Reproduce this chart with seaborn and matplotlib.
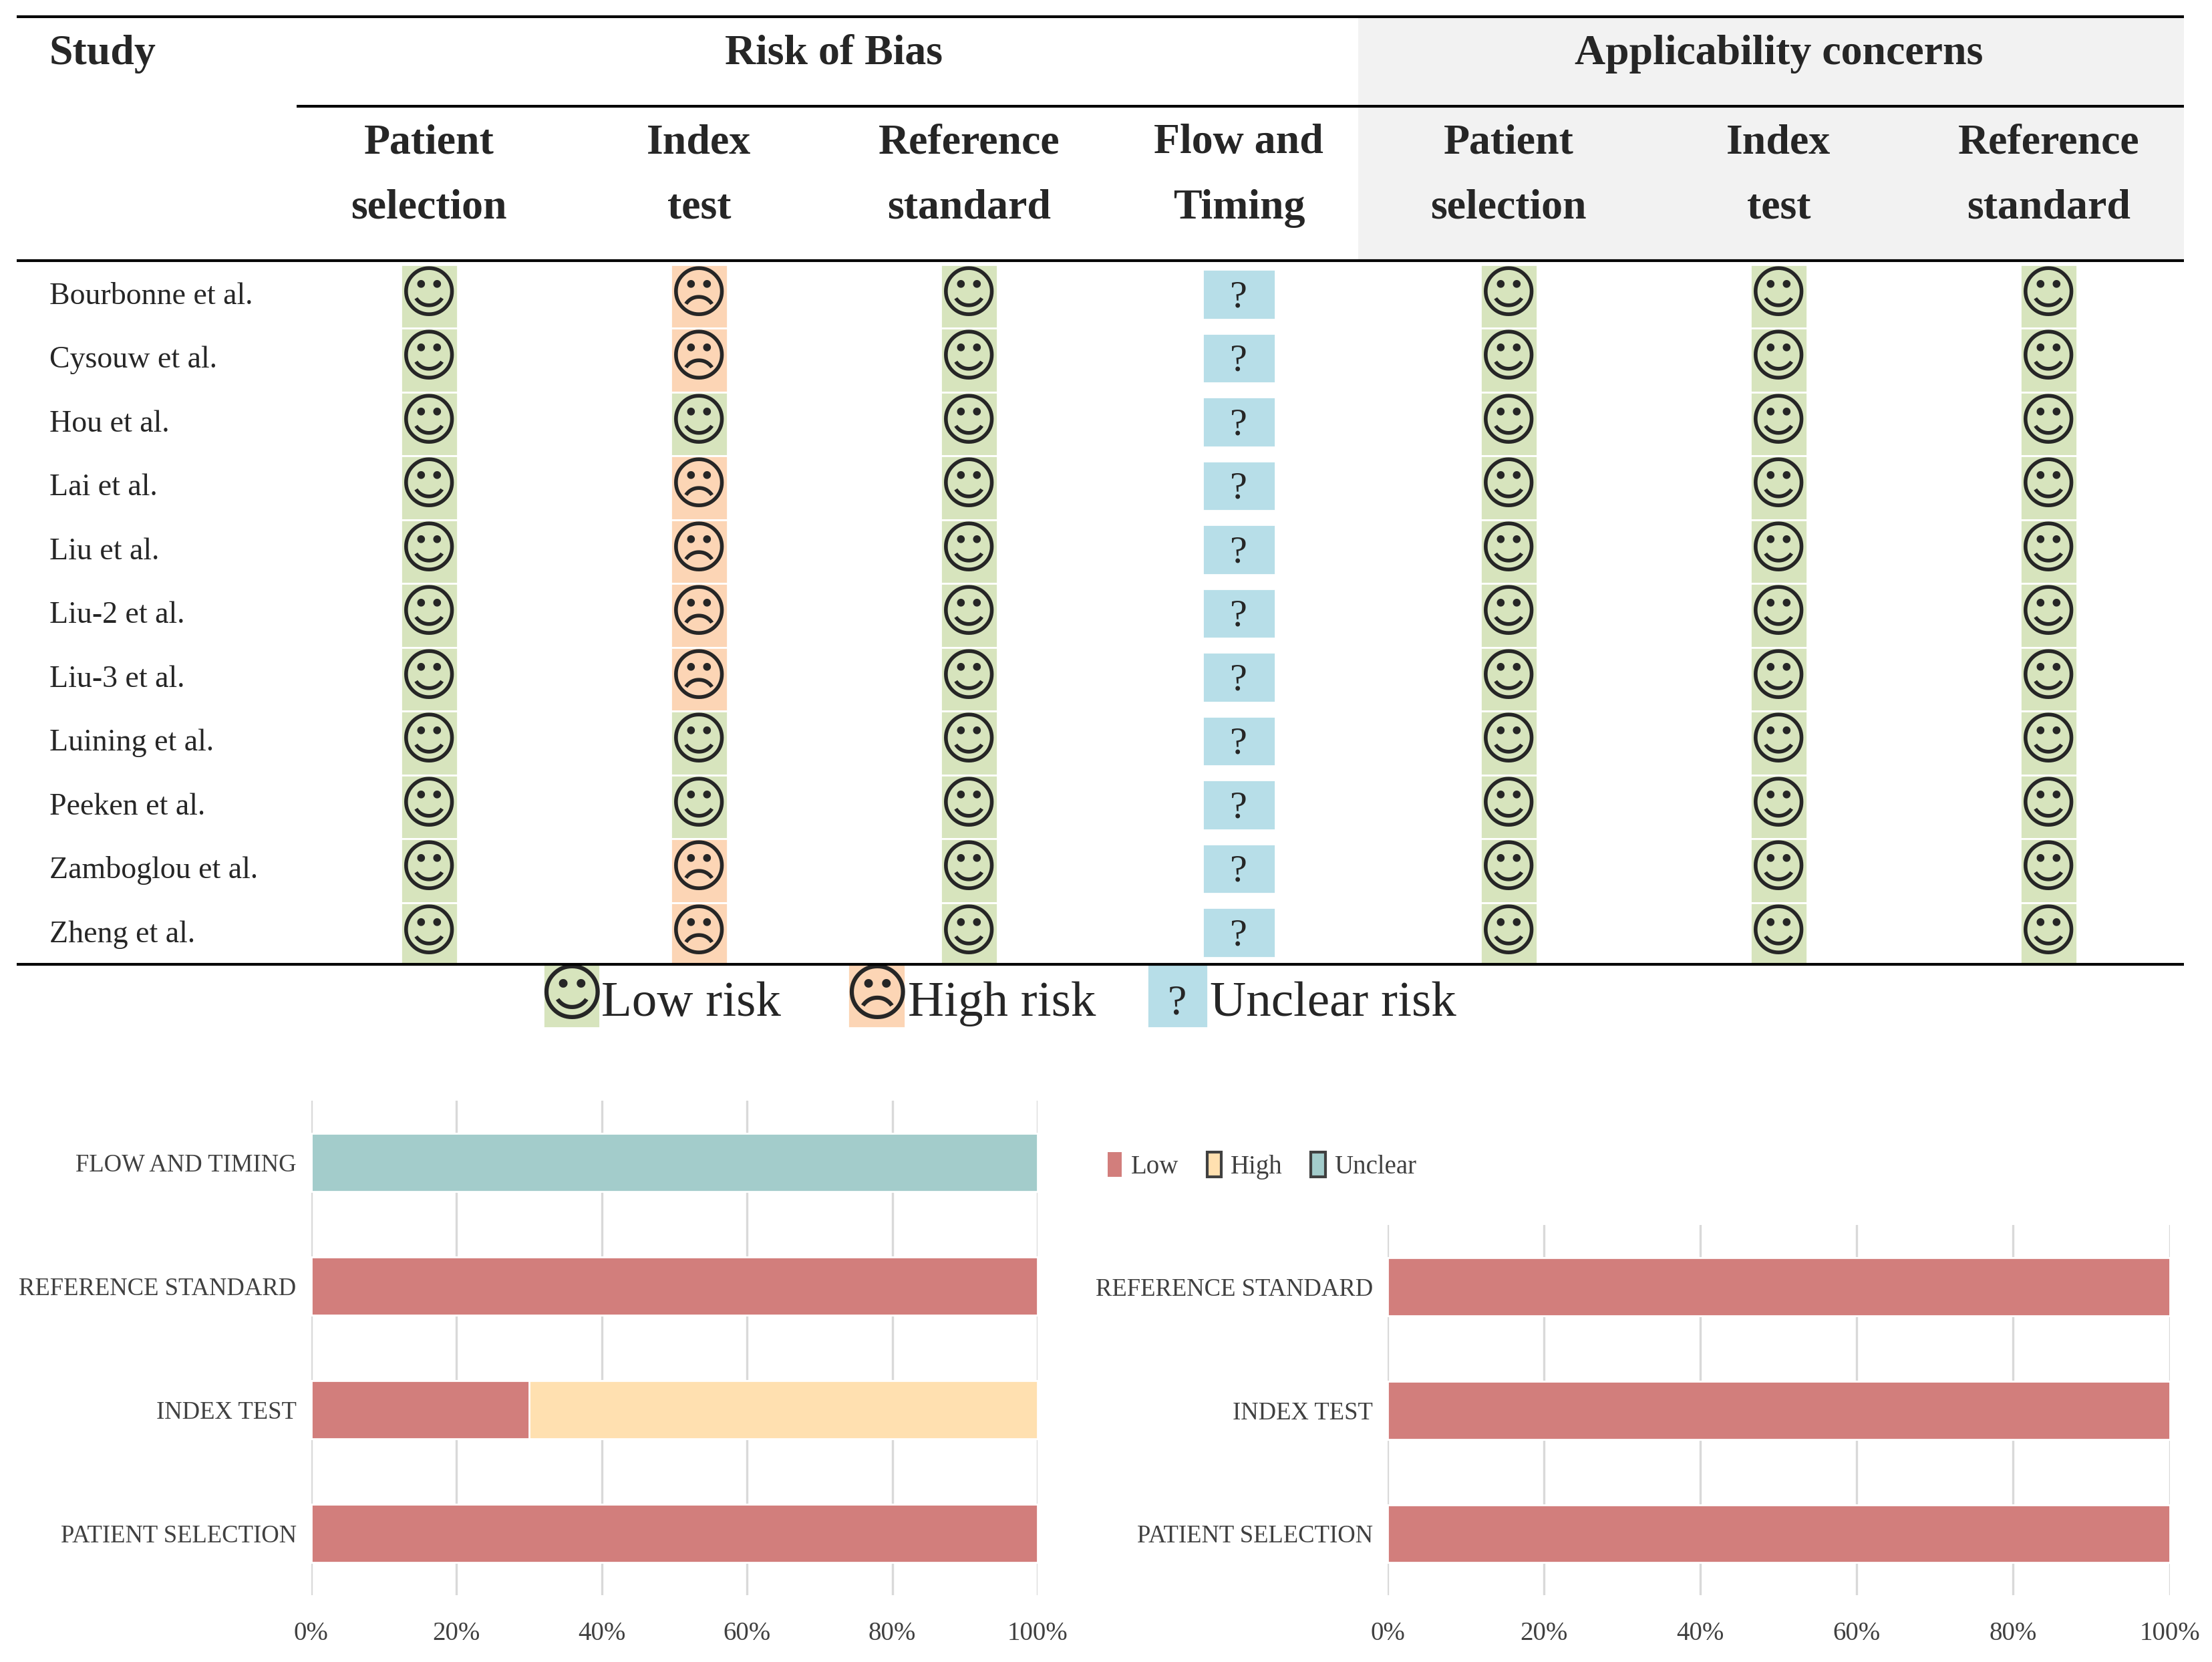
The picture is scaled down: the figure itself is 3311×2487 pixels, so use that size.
import matplotlib
matplotlib.use("Agg")
import matplotlib.pyplot as plt
from matplotlib.patches import Patch, Rectangle
from matplotlib.ticker import FuncFormatter
import seaborn as sns
import numpy as np

# ---- data ----
studies = ["Bourbonne et al.", "Cysouw et al.", "Hou et al.", "Lai et al.", "Liu et al.",
           "Liu-2 et al.", "Liu-3 et al.", "Luining et al.", "Peeken et al.",
           "Zamboglou et al.", "Zheng et al."]
domains = ["Patient\nselection", "Index\ntest", "Reference\nstandard", "Flow and\nTiming",
           "Patient\nselection", "Index\ntest", "Reference\nstandard"]
# one string per study, one letter per column: L = low, H = high, U = unclear
ratings = ["LHLULLL", "LHLULLL", "LLLULLL", "LHLULLL", "LHLULLL", "LHLULLL",
           "LHLULLL", "LLLULLL", "LLLULLL", "LHLULLL", "LHLULLL"]

rob_domains = ["FLOW AND TIMING", "REFERENCE STANDARD", "INDEX TEST", "PATIENT SELECTION"]
rob_low = [0, 100, 30, 100]
rob_high = [0, 0, 70, 0]
rob_unclear = [100, 0, 0, 0]

ac_domains = ["REFERENCE STANDARD", "INDEX TEST", "PATIENT SELECTION"]
ac_low = [100, 100, 100]
ac_high = [0, 0, 0]
ac_unclear = [0, 0, 0]

# ---- styles ----
cell_col = {"L": "#d7e4bd", "H": "#fcd5b5", "U": "#b7dee8"}
glyph = {"L": "\u263A", "H": "\u2639", "U": "?"}
bar_low, bar_high, bar_unclear = "#d27e7c", "#ffe0b0", "#a3cccb"
grey_txt = "#404040"

sns.set_style("white")
plt.rcParams["font.family"] = ["Liberation Serif", "DejaVu Sans"]

W_D, H_D = 1567.0, 1172.0   # layout units of the reference
fig = plt.figure(figsize=(3311 / 200, 2487 / 200), dpi=200)

# ---- table ----
x0, dx = 304.0, 191.2
y0, dy = 209.0, 45.0
tab_h = 745.0
tab = fig.add_axes([0, 1 - tab_h / H_D, 1, tab_h / H_D])
tab.set_xlim(-x0 / dx, (W_D - x0) / dx)
tab.set_ylim((tab_h - y0) / dy, -y0 / dy)
tab.axis("off")

def cx(px):
    return (px - x0) / dx

def ry(py):
    return (py - y0) / dy

x_left, x_right = cx(12), cx(1547)
tab.add_patch(Rectangle((cx(962), ry(12)), x_right - cx(962), ry(184) - ry(12),
                        facecolor="#f2f2f2", edgecolor="none", zorder=0))
lw = 1.5
tab.hlines([ry(12), ry(184), ry(680)], x_left, x_right, color="black", lw=lw, zorder=3)
tab.hlines(ry(75), cx(210), x_right, color="black", lw=lw, zorder=3)

hdr = dict(fontsize=23, fontweight="bold", va="center")
tab.text(cx(35), ry(38), "Study", ha="left", **hdr)
tab.text(1.5, ry(38), "Risk of Bias", ha="center", **hdr)
tab.text(5.0, ry(38), "Applicability concerns", ha="center", **hdr)
for j, d in enumerate(domains):
    tab.text(j, ry(124), d, ha="center", linespacing=1.9, **hdr)

for i, (s, r) in enumerate(zip(studies, ratings)):
    tab.text(cx(35), i, s, ha="left", va="center", fontsize=16.5)
    for j, k in enumerate(r):
        if k == "U":
            tab.bar(j, 0.78, bottom=i - 0.42, width=0.27, color=cell_col[k], zorder=1)
            tab.text(j, i + 0.02, "?", ha="center", va="center", fontsize=21, zorder=2)
        else:
            tab.bar(j, 1.0, bottom=i - 0.5, width=0.21, color=cell_col[k], zorder=1)
            tab.text(j, i, glyph[k], ha="center", va="center", fontsize=30.5,
                     fontweight="bold", family=["DejaVu Sans"], zorder=2)

# legend row under the table
leg_items = [("L", 405, 40, 426, "Low risk"), ("H", 621, 41, 643, "High risk"),
             ("U", 834, 43, 857, "Unclear risk")]
for k, cpx, wpx, tpx, lab in leg_items:
    tab.bar(cx(cpx), 1.0, bottom=ry(680), width=wpx / dx, color=cell_col[k], zorder=1)
    if k == "U":
        tab.text(cx(cpx), ry(708), "?", ha="center", va="center", fontsize=23, zorder=2)
    else:
        tab.text(cx(cpx), ry(703), glyph[k], ha="center", va="center", fontsize=34,
                 fontweight="bold", family=["DejaVu Sans"], zorder=2)
    tab.text(cx(tpx), ry(708), lab, ha="left", va="center", fontsize=27)

# ---- stacked bar charts ----
def stacked(ax, cats, low, high, unclear):
    lh = np.add(low, high)
    tot = np.add(lh, unclear)
    for vals, col in [(tot, bar_unclear), (lh, bar_high), (low, bar_low)]:
        sns.barplot(x=vals, y=cats, orient="h", color=col, saturation=1,
                    width=0.47, errorbar=None, ax=ax, zorder=2)
    ax.set_xlim(0, 100)
    ax.set_ylim(len(cats) - 0.5, -0.5)
    ax.set_xticks(range(0, 101, 20))
    ax.xaxis.set_major_formatter(FuncFormatter(lambda v, p: f"{v:.0f}%"))
    ax.xaxis.grid(True, color="#d9d9d9", lw=1.2)
    ax.yaxis.grid(False)
    ax.set_axisbelow(True)
    for sp in ax.spines.values():
        sp.set_visible(False)
    ax.tick_params(axis="both", length=0, labelsize=14, labelcolor=grey_txt)
    ax.tick_params(axis="y", labelsize=13.2, pad=8)
    ax.tick_params(axis="x", pad=14)
    ax.set_xlabel("")
    ax.set_ylabel("")

ax1 = fig.add_axes([220.5 / W_D, 1 - 1125 / H_D, (735 - 220.5) / W_D, (1125 - 776) / H_D])
stacked(ax1, rob_domains, rob_low, rob_high, rob_unclear)

ax2 = fig.add_axes([983 / W_D, 1 - 1125 / H_D, (1537 - 983) / W_D, (1125 - 864) / H_D])
stacked(ax2, ac_domains, ac_low, ac_high, ac_unclear)

handles = [Patch(facecolor=bar_low, edgecolor="none"),
           Patch(facecolor=bar_high, edgecolor=grey_txt, lw=1.5),
           Patch(facecolor=bar_unclear, edgecolor=grey_txt, lw=1.5)]
fig.legend(handles, ["Low", "High", "Unclear"], loc="center left",
           bbox_to_anchor=(768 / W_D, 1 - 822 / H_D), ncol=3, frameon=False,
           handlelength=0.55, handleheight=1.1, handletextpad=0.35, columnspacing=1.1,
           fontsize=14, labelcolor=grey_txt)

fig.savefig("out.png", dpi=200)
